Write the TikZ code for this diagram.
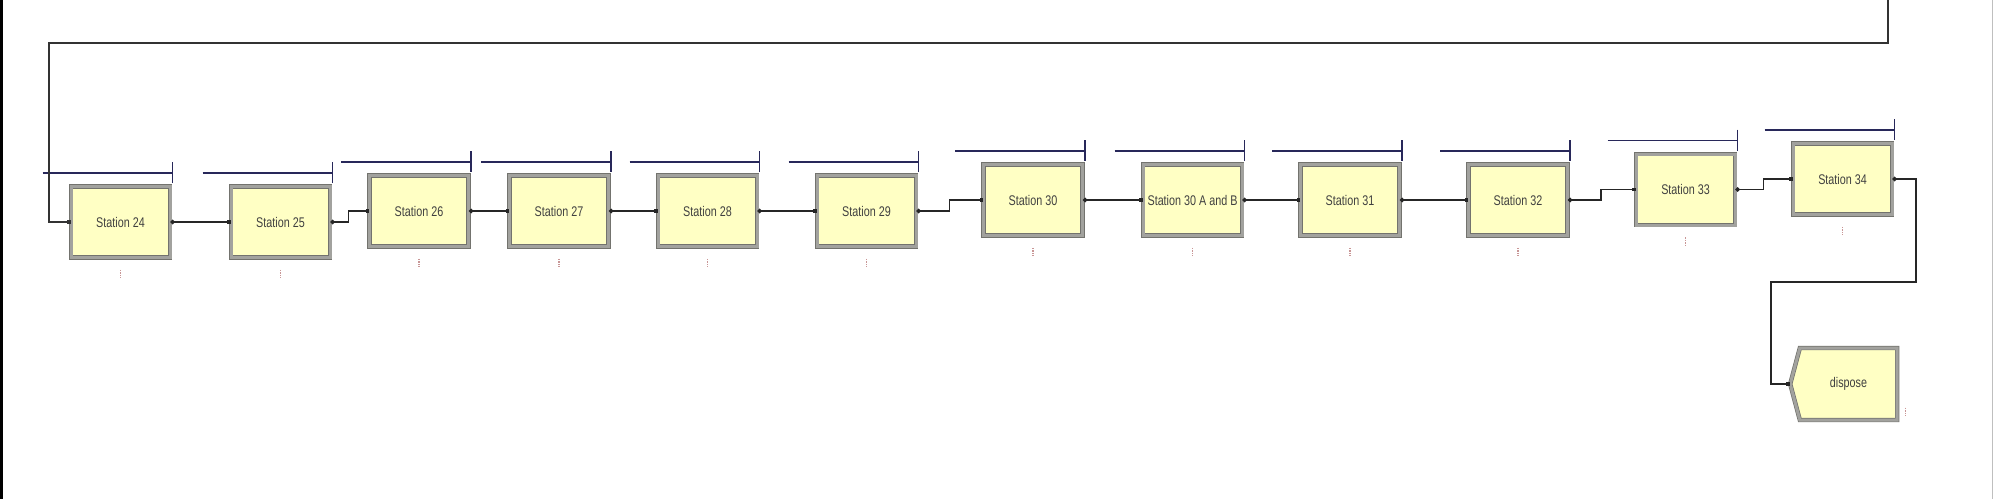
\documentclass[tikz,border=0pt]{standalone}
\usepackage{fontspec}
\newfontfamily\arenafont[FakeStretch=0.77]{Liberation Sans}
\usetikzlibrary{calc,shapes.symbols,arrows.meta}
\definecolor{boxfill}{RGB}{255,255,196}
\definecolor{boxband}{RGB}{162,162,158}
\definecolor{boxedge}{RGB}{115,115,110}
\definecolor{queuecol}{RGB}{40,40,90}
\definecolor{textcol}{RGB}{64,64,64}
\definecolor{markcol}{RGB}{200,150,150}
\begin{document}
\begin{tikzpicture}[x=1pt,y=-1pt,
  station/.style={rectangle, draw=boxedge, line width=0.7pt, double=boxband, double distance=3pt,
    fill=boxfill, minimum width=99pt, minimum height=71pt, inner sep=0pt,
    font={\arenafont\fontsize{14}{16}\selectfont}, text=textcol},
  disposebox/.style={signal, signal to=west, signal pointer angle=150, draw=boxedge, line width=0.7pt,
    double=boxband, double distance=3pt, fill=boxfill, minimum width=107pt, minimum height=72pt,
    inner sep=0pt, font={\arenafont\fontsize{14}{16}\selectfont}, text=textcol},
  link/.style={line width=1.3pt, draw=black!85, {Circle[length=4.5pt]}-{Square[length=3.5pt]}},
  toplink/.style={line width=1.5pt, draw=black!80, -{Square[length=3.5pt]}},
  queue/.style={line width=1.4pt, draw=queuecol},
  marker/.style={line width=1.1pt, draw=markcol, dash pattern=on 1.5pt off 1pt}
]
\useasboundingbox (0,0) rectangle (1993,499);
\fill[white] (0,0) rectangle (1993,499);
\fill[black] (0,0) rectangle (3,499);
\draw[gray!50, line width=1pt] (1992,0) -- (1992,499);

% stations
\node[station] (s24) at (120.5,222) {Station 24};
\node[station] (s25) at (280.5,222) {Station 25};
\node[station] (s26) at (419,211) {Station 26};
\node[station] (s27) at (559,211) {Station 27};
\node[station] (s28) at (707.5,211) {Station 28};
\node[station] (s29) at (866.5,211) {Station 29};
\node[station] (s30) at (1033,200) {Station 30};
\node[station] (s30ab) at (1192.5,200) {Station 30 A and B};
\node[station] (s31) at (1350,200) {Station 31};
\node[station] (s32) at (1518,200) {Station 32};
\node[station] (s33) at (1685.5,189.5) {Station 33};
\node[station] (s34) at (1842.5,179) {Station 34};
\node[disposebox] (disp) at (1848.5,384) {dispose};

% queues and markers
\foreach \n in {s24,s25,s26,s27,s28,s29,s30,s30ab,s31,s32,s33,s34}{
  \draw[queue] ($(\n.north west)+(-28,-13)$) -- ($(\n.north east)+(2,-13)$);
  \draw[queue] ($(\n.north east)+(2,-24)$) -- ($(\n.north east)+(2,-3)$);
  \draw[marker] ($(\n.south)+(0,12)$) -- ++(0,8);
}
\draw[marker] ($(disp.south east)+(8,-12)$) -- ++(0,8);

% connectors
\coordinate (topin) at (1888,0);
\coordinate (loopcorner) at (49,43);
\draw[toplink] (topin) |- (loopcorner) |- (s24.west);
\draw[link] (s24.east) -- (s25.west);
\draw[link] (s25.east) -- ++(18,0) |- (s26.west);
\draw[link] (s26.east) -- (s27.west);
\draw[link] (s27.east) -- (s28.west);
\draw[link] (s28.east) -- (s29.west);
\draw[link] (s29.east) -- ++(33,0) |- (s30.west);
\draw[link] (s30.east) -- (s30ab.west);
\draw[link] (s30ab.east) -- (s31.west);
\draw[link] (s31.east) -- (s32.west);
\draw[link] (s32.east) -- ++(33,0) |- (s33.west);
\draw[link] (s33.east) -- ++(28,0) |- (s34.west);
\coordinate (d1) at (1916,282);
\coordinate (d2) at (1771,282);
\draw[link] (s34.east) -| (d1) -- (d2) |- (disp.west);
\end{tikzpicture}
\end{document}
